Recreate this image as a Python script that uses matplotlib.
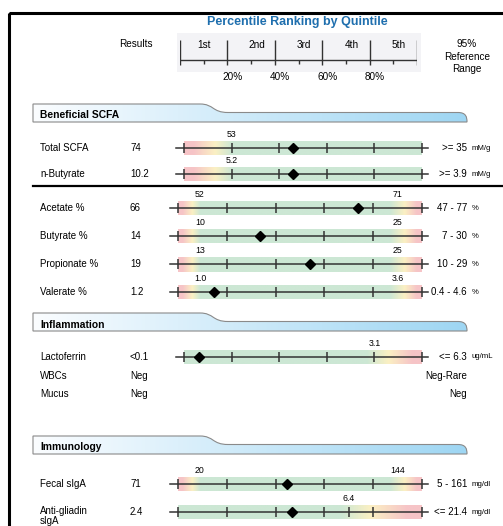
import matplotlib
matplotlib.use('Agg')
import matplotlib.pyplot as plt
import numpy as np
from matplotlib.path import Path
from matplotlib.patches import PathPatch, Rectangle
from matplotlib.colors import to_rgb

plt.rcParams['font.family'] = ['Liberation Sans', 'DejaVu Sans']

# ---------------- data ----------------
title = "Percentile Ranking by Quintile"
quintile_labels = ["1st", "2nd", "3rd", "4th", "5th"]
percent_ticks = [20, 40, 60, 80]
sections = ["Beneficial SCFA", "Inflammation", "Immunology"]

test_names = ["Total SCFA", "n-Butyrate", "Acetate %", "Butyrate %", "Propionate %",
              "Valerate %", "Lactoferrin", "Fecal sIgA", "Anti-gliadin\nsIgA"]
test_results = ["74", "10.2", "66", "14", "19", "1.2", "<0.1", "71", "2.4"]
test_percentile = [45.7, 45.7, 73.6, 33.6, 54.1, 14.8, 6.3, 44.8, 46.7]
low_labels = ["53", "5.2", "52", "10", "13", "1.0", None, "20", None]
low_pct = [20, 20, 9, 9, 9, 9, None, 9, None]
high_labels = [None, None, "71", "25", "25", "3.6", "3.1", "144", "6.4"]
high_pct = [None, None, 90, 90, 90, 90, 80, 90, 70]
ref_ranges = [">= 35", ">= 3.9", "47 - 77", "7 - 30", "10 - 29", "0.4 - 4.6",
              "<= 6.3", "5 - 161", "<= 21.4"]
units = ["mM/g", "mM/g", "%", "%", "%", "%", "ug/mL", "mg/dl", "mg/dl"]

text_names = ["WBCs", "Mucus"]
text_results = ["Neg", "Neg"]
text_ranges = ["Neg-Rare", "Neg"]

# ---------------- layout (pixels) ----------------
W, H, DPI = 503, 526, 100
row_y = [148, 174, 208, 236, 264, 292, 357, 484, 512]
row_left = [184, 184, 178, 178, 178, 178, 184, 178, 178]
row_right = 422
text_row_y = [376, 394]
section_tops = [104, 313, 436]
sep_y = 186

RED, YEL, GRN = to_rgb('#f6c4c7'), to_rgb('#fbf0c3'), to_rgb('#cce7d4')
INK = '#333333'
FS = 7

fig = plt.figure(figsize=(W / DPI, H / DPI), dpi=DPI)
bg = fig.add_axes([0, 0, 1, 1])
bg.set_xlim(0, W)
bg.set_ylim(H, 0)
bg.axis('off')


def px_axes(x0, y0, x1, y1):
    return fig.add_axes([x0 / W, 1 - y1 / H, (x1 - x0) / W, (y1 - y0) / H])


# frame
bg.add_patch(Rectangle((9.5, 12.5), 520, 540, fill=False, lw=2.2, ec='black'))

# title
bg.text(297, 21.5, title, ha='center', va='center', fontsize=9, fontweight='bold',
        color='#1f6fae')

# header scale
bg.add_patch(Rectangle((177, 33), 244, 39, color='#f3f3f6', lw=0, zorder=0))
hax = px_axes(180, 33, 417, 72)
hax.set_xlim(0, 100)
hax.set_ylim(72, 33)
hax.axis('off')
for q in range(0, 101, 20):
    hax.plot([q, q], [40, 65], color=INK, lw=1.0, solid_capstyle='butt')
for q in range(10, 100, 20):
    hax.plot([q, q], [60, 64], color=INK, lw=1.0, solid_capstyle='butt')
hax.plot([0, 100], [60, 60], color=INK, lw=1.0)
for i, lab in enumerate(quintile_labels):
    hax.text(10 + 20 * i + (0 if i == 0 else 2.3), 44.5, lab, ha='center', va='center',
             fontsize=7.2)
for p in percent_ticks:
    hax.text(p + 2.3, 77, f"{p}%", ha='center', va='center', fontsize=7.2, clip_on=False)
bg.text(136, 44, "Results", ha='center', va='center', fontsize=7.2)
bg.text(467, 56.5, "95%\nReference\nRange", ha='center', va='center', fontsize=7.2,
        linespacing=1.3)


# section tabs
def tab(top, label):
    mid, bot = top + 8.5, top + 18
    verts = [(33, bot), (33, top), (200, top), (214, top), (212, mid), (228, mid),
             (458, mid), (466, mid), (467, bot - 5), (467, bot), (33, bot)]
    codes = [Path.MOVETO, Path.LINETO, Path.LINETO, Path.CURVE4, Path.CURVE4, Path.CURVE4,
             Path.LINETO, Path.CURVE4, Path.CURVE4, Path.CURVE4, Path.CLOSEPOLY]
    patch = PathPatch(Path(verts, codes), fc='none', ec='#8a8a8a', lw=0.8, zorder=3)
    bg.add_patch(patch)
    t = np.linspace(0, 1, 256)
    c0, c1 = np.array(to_rgb('#fbfdff')), np.array(to_rgb('#9ed6f3'))
    grad = (c0[None, :] * (1 - t[:, None]) + c1[None, :] * t[:, None])[None, :, :]
    im = bg.imshow(grad, extent=[33, 467, bot, top], aspect='auto', zorder=2,
                   interpolation='bilinear')
    im.set_clip_path(patch)
    bg.text(40, top + 11.5, label, ha='left', va='center', fontsize=7.4, fontweight='bold',
            zorder=4)


for top, lab in zip(section_tops, sections):
    tab(top, lab)

bg.plot([33, 510], [sep_y, sep_y], color='black', lw=1.6, clip_on=False)


def gradient_row(lo, hi):
    if lo is not None:
        stops = [(0, RED), (lo * 0.2, RED), (lo * 0.65, YEL), (lo, GRN)]
    else:
        stops = [(0, GRN)]
    if hi is not None:
        span = 100 - hi
        stops += [(hi - 3, GRN), (hi + span * 0.3, YEL), (hi + span * 0.8, RED), (100, RED)]
    else:
        stops += [(100, GRN)]
    xs = np.linspace(0, 100, 500)
    pos = [s[0] for s in stops]
    rgb = np.stack([np.interp(xs, pos, [s[1][k] for s in stops]) for k in range(3)], axis=-1)
    return rgb[None, :, :]


for i, name in enumerate(test_names):
    y = row_y[i]
    x0 = row_left[i]
    ax = px_axes(x0, y - 7.5, row_right, y + 7.5)
    ax.set_xlim(0, 100)
    ax.set_ylim(-1, 1)
    ax.axis('off')
    ax.imshow(gradient_row(low_pct[i], high_pct[i]), extent=[0, 100, -1, 1],
              aspect='auto', zorder=0, interpolation='bilinear')
    ext = 8 / (row_right - x0) * 100
    ax.plot([-ext, 100 + ext * 0.7], [0, 0], color=INK, lw=1.1, clip_on=False, zorder=2)
    ticks = list(range(0, 101, 20))
    if low_pct[i] is not None and high_pct[i] is None and low_pct[i] not in ticks:
        ticks.append(low_pct[i])
    if high_pct[i] is not None and low_pct[i] is None and high_pct[i] not in ticks:
        ticks.append(high_pct[i])
    for tk in ticks:
        ax.plot([tk, tk], [-0.62, 0.62], color=INK, lw=1.1, clip_on=False, zorder=2,
                solid_capstyle='butt')
    ax.plot([test_percentile[i]], [0], marker='D', ms=4.8, color='black', zorder=3,
            clip_on=False)
    if low_labels[i] is not None:
        ax.text(low_pct[i], 1.75, low_labels[i], ha='center', va='center', fontsize=6.3,
                clip_on=False)
    if high_labels[i] is not None:
        ax.text(high_pct[i], 1.75, high_labels[i], ha='center', va='center', fontsize=6.3,
                clip_on=False)
    if '\n' in name:
        bg.text(40, y - 6.5, name, ha='left', va='top', fontsize=FS, linespacing=1.0)
    else:
        bg.text(40, y, name, ha='left', va='center', fontsize=FS)
    bg.text(130, y, test_results[i], ha='left', va='center', fontsize=FS)
    bg.text(467, y, ref_ranges[i], ha='right', va='center', fontsize=FS)
    bg.text(472, y, units[i], ha='left', va='center', fontsize=5.6)

for j, name in enumerate(text_names):
    y = text_row_y[j]
    bg.text(40, y, name, ha='left', va='center', fontsize=FS)
    bg.text(130, y, text_results[j], ha='left', va='center', fontsize=FS)
    bg.text(467, y, text_ranges[j], ha='right', va='center', fontsize=FS)

fig.savefig('out.png', dpi=DPI)
